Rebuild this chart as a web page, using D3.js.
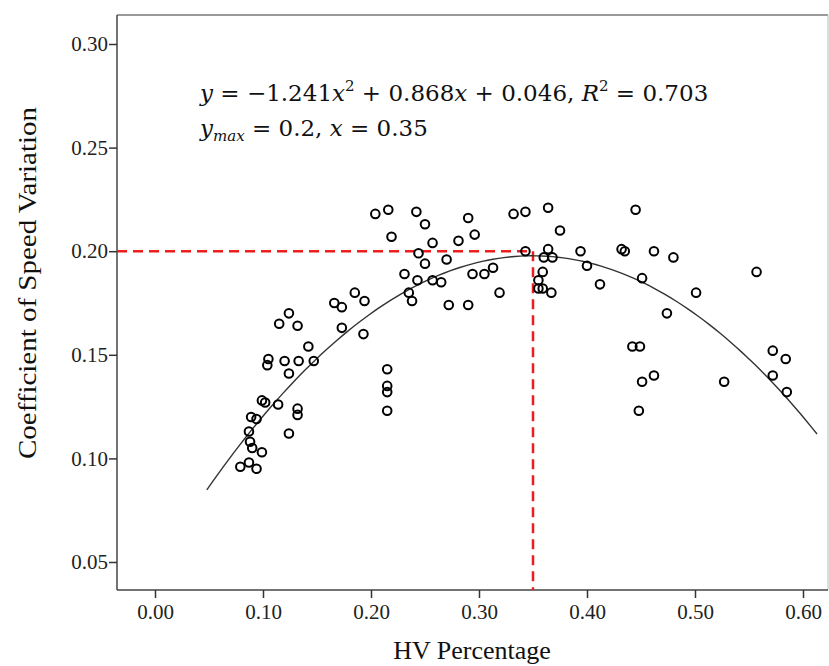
<!DOCTYPE html>
<html>
<head>
<meta charset="utf-8">
<script src="https://cdn.jsdelivr.net/npm/d3@7"></script>
<style>
  body { margin: 0; background: #fff; }
  svg { display: block; }
</style>
</head>
<body>
<div id="chart"></div>
<script>
// HV percentage (x) and coefficient of speed variation (y)
const hvShare = [
  0.079, 0.087, 0.094, 0.099, 0.087, 0.088, 0.090, 0.089, 0.094, 0.099,
  0.102, 0.105, 0.104, 0.114, 0.115, 0.124, 0.120, 0.124, 0.132, 0.124,
  0.132, 0.132, 0.133, 0.142, 0.147, 0.166, 0.173, 0.173, 0.185, 0.194,
  0.193, 0.215, 0.215, 0.215, 0.215, 0.204, 0.216, 0.219, 0.242, 0.250,
  0.257, 0.281, 0.290, 0.296, 0.332, 0.343, 0.364, 0.375, 0.244, 0.250,
  0.270, 0.231, 0.243, 0.257, 0.265, 0.235, 0.238, 0.272, 0.290, 0.294,
  0.305, 0.313, 0.319, 0.343, 0.364, 0.360, 0.368, 0.359, 0.355, 0.355,
  0.359, 0.367, 0.394, 0.400, 0.412, 0.432, 0.435, 0.445, 0.462, 0.480,
  0.451, 0.501, 0.474, 0.442, 0.449, 0.462, 0.451, 0.448, 0.527, 0.557,
  0.572, 0.584, 0.572, 0.585
];
const speedCv = [
  0.096, 0.098, 0.095, 0.103, 0.113, 0.108, 0.105, 0.120, 0.119, 0.128,
  0.127, 0.148, 0.145, 0.126, 0.165, 0.170, 0.147, 0.141, 0.164, 0.112,
  0.124, 0.121, 0.147, 0.154, 0.147, 0.175, 0.173, 0.163, 0.180, 0.176,
  0.160, 0.143, 0.135, 0.132, 0.123, 0.218, 0.220, 0.207, 0.219, 0.213,
  0.204, 0.205, 0.216, 0.208, 0.218, 0.219, 0.221, 0.210, 0.199, 0.194,
  0.196, 0.189, 0.186, 0.186, 0.185, 0.180, 0.176, 0.174, 0.174, 0.189,
  0.189, 0.192, 0.180, 0.200, 0.201, 0.197, 0.197, 0.190, 0.186, 0.182,
  0.182, 0.180, 0.200, 0.193, 0.184, 0.201, 0.200, 0.220, 0.200, 0.197,
  0.187, 0.180, 0.170, 0.154, 0.154, 0.140, 0.137, 0.123, 0.137, 0.190,
  0.152, 0.148, 0.140, 0.132
];
const points = hvShare.map((x, i) => ({ x, y: speedCv[i] }));

// fitted quadratic y = a x^2 + b x + c
const fitA = -1.241, fitB = 0.868, fitC = 0.046;
const fitRange = [0.048, 0.617];
const peak = { x: 0.35, y: 0.2 };

const xTicks = [0, 0.1, 0.2, 0.3, 0.4, 0.5, 0.6];
const yTicks = [0.05, 0.1, 0.15, 0.2, 0.25, 0.3];

const width = 829, height = 666;
const frame = { left: 117, right: 828, top: 15, bottom: 590 };
const serif = "Liberation Serif, Times New Roman, serif";

const svg = d3.select("#chart").append("svg")
  .attr("width", width)
  .attr("height", height);

const x = d3.scaleLinear().domain([0, 0.35]).range([155, 533]);
const y = d3.scaleLinear().domain([0.3, 0.2]).range([44, 251.2]);

// plot frame (top/right lighter)
svg.append("line")
  .attr("x1", frame.left).attr("x2", frame.right)
  .attr("y1", frame.top).attr("y2", frame.top)
  .attr("stroke", "#777").attr("stroke-width", 1.5);
svg.append("line")
  .attr("x1", frame.right).attr("x2", frame.right)
  .attr("y1", frame.top).attr("y2", frame.bottom)
  .attr("stroke", "#bbb").attr("stroke-width", 1);

const xAxis = svg.append("g")
  .attr("transform", `translate(0,${frame.bottom})`)
  .call(d3.axisBottom(x).tickValues(xTicks).tickFormat(d3.format(".2f")).tickSize(8).tickSizeOuter(0));
xAxis.select(".domain").attr("d", `M${frame.left},0H${frame.right}`);

const yAxis = svg.append("g")
  .attr("transform", `translate(${frame.left},0)`)
  .call(d3.axisLeft(y).tickValues(yTicks).tickFormat(d3.format(".2f")).tickSize(8).tickSizeOuter(0));
yAxis.select(".domain").attr("d", `M0,${frame.top}V${frame.bottom}`);

svg.selectAll(".domain").attr("stroke", "#444").attr("stroke-width", 1.5);
svg.selectAll(".tick line").attr("stroke", "#333").attr("stroke-width", 1.5);
svg.selectAll(".tick text")
  .attr("font-family", serif)
  .attr("font-size", 21)
  .attr("fill", "#222");
xAxis.selectAll(".tick text").attr("dy", "0.85em");
yAxis.selectAll(".tick text").attr("dx", "0.1em");

// red dashed guides to the peak
svg.append("line")
  .attr("x1", frame.left).attr("x2", x(peak.x))
  .attr("y1", y(peak.y)).attr("y2", y(peak.y))
  .attr("stroke", "#ee1c1c").attr("stroke-width", 2.5)
  .attr("stroke-dasharray", "10,6");
svg.append("line")
  .attr("x1", x(peak.x)).attr("x2", x(peak.x))
  .attr("y1", y(peak.y)).attr("y2", frame.bottom)
  .attr("stroke", "#ee1c1c").attr("stroke-width", 2.5)
  .attr("stroke-dasharray", "10,6");

// fitted curve
const curveXs = d3.range(fitRange[0], fitRange[1] + 1e-9, 0.005);
svg.append("path")
  .datum(curveXs)
  .attr("fill", "none")
  .attr("stroke", "#333")
  .attr("stroke-width", 1.4)
  .attr("d", d3.line().x(d => x(d)).y(d => y(fitA * d * d + fitB * d + fitC)));

// scatter points
svg.selectAll("circle.pt")
  .data(points)
  .enter()
  .append("circle")
  .attr("class", "pt")
  .attr("cx", d => x(d.x))
  .attr("cy", d => y(d.y))
  .attr("r", 4.3)
  .attr("fill", "none")
  .attr("stroke", "#000")
  .attr("stroke-width", 2);

// equation text
const eq = svg.append("g")
  .attr("font-family", "DejaVu Serif, serif")
  .attr("font-size", 23)
  .attr("fill", "#111");

const line1 = eq.append("text").attr("x", 200).attr("y", 101);
line1.append("tspan").attr("font-style", "italic").text("y");
line1.append("tspan").text(" = −1.241");
line1.append("tspan").attr("font-style", "italic").text("x");
line1.append("tspan").attr("font-size", 15).attr("dy", -10).text("2");
line1.append("tspan").attr("dy", 10).text(" + 0.868");
line1.append("tspan").attr("font-style", "italic").text("x");
line1.append("tspan").text(" + 0.046, ");
line1.append("tspan").attr("font-style", "italic").text("R");
line1.append("tspan").attr("font-size", 15).attr("dy", -10).text("2");
line1.append("tspan").attr("dy", 10).text(" = 0.703");

const line2 = eq.append("text").attr("x", 200).attr("y", 136);
line2.append("tspan").attr("font-style", "italic").text("y");
line2.append("tspan").attr("font-style", "italic").attr("font-size", 15).attr("dy", 5).text("max");
line2.append("tspan").attr("dy", -5).text(" = 0.2, ");
line2.append("tspan").attr("font-style", "italic").text("x");
line2.append("tspan").text(" = 0.35");

// axis titles
svg.append("text")
  .attr("x", 472).attr("y", 659)
  .attr("text-anchor", "middle")
  .attr("font-family", serif)
  .attr("font-size", 26)
  .attr("fill", "#111")
  .text("HV Percentage");

svg.append("text")
  .attr("transform", "translate(36,283) rotate(-90)")
  .attr("text-anchor", "middle")
  .attr("font-family", serif)
  .attr("font-size", 26)
  .attr("textLength", 352)
  .attr("lengthAdjust", "spacingAndGlyphs")
  .attr("fill", "#111")
  .text("Coefficient of Speed Variation");
</script>
</body>
</html>
